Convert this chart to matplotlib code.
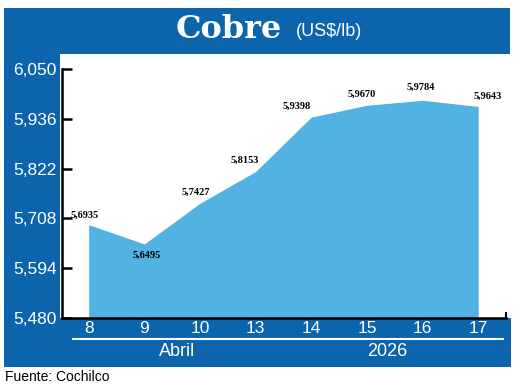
import matplotlib
matplotlib.use("Agg")
import matplotlib.pyplot as plt
from matplotlib.patches import Rectangle

categories = ["8", "9", "10", "13", "14", "15", "16", "17"]
values = [5.6935, 5.6495, 5.7427, 5.8153, 5.9398, 5.9670, 5.9784, 5.9643]
y_ticks = [5.480, 5.594, 5.708, 5.822, 5.936, 6.050]
title_main = "Cobre"
title_unit = "(US$/lb)"
group_labels = ["Abril", "2026"]
source = "Fuente: Cochilco"

# label offsets in pixels (dx, dy) relative to each point (styling)
label_offsets = [(-4, 9), (2, -11), (-4, 11), (-11, 11), (-15, 11), (-5, 11), (-2, 13), (10, 10)]

W, H = 520, 388
DPI = 100
BLUE = "#0B64AC"
FILL = "#52B2E1"

fig = plt.figure(figsize=(W / DPI, H / DPI), dpi=DPI)
fig.patch.set_facecolor("white")

bg = fig.add_axes([0, 0, 1, 1])
bg.set_xlim(0, W)
bg.set_ylim(H, 0)
bg.axis("off")
bg.add_patch(Rectangle((4, 8), 506, 46, color=BLUE, lw=0))
bg.add_patch(Rectangle((4, 54), 56, 313, color=BLUE, lw=0))
bg.add_patch(Rectangle((4, 318), 507, 49, color=BLUE, lw=0))
bg.plot([73, 503], [339, 339], color="white", lw=1.5)

bg.text(229, 30, title_main, color="white", fontsize=23, fontweight="bold",
        family="DejaVu Serif", ha="center", va="center")
bg.text(296, 31, title_unit, color="white", fontsize=13,
        family="Liberation Sans", ha="left", va="center")
bg.text(177, 352, group_labels[0], color="white", fontsize=13,
        family="Liberation Sans", ha="center", va="center")
bg.text(387, 352, group_labels[1], color="white", fontsize=13,
        family="Liberation Sans", ha="center", va="center")
bg.text(5, 377, source, color="black", fontsize=10,
        family="Liberation Sans", ha="left", va="center")

left, right, top, bottom = 62, 506, 69, 318
ax = fig.add_axes([left / W, 1 - bottom / H, (right - left) / W, (bottom - top) / H])
ax.set_facecolor("none")
x = list(range(len(categories)))
ax.fill_between(x, values, y_ticks[0], color=FILL, lw=0, zorder=1)
ax.set_xlim(-0.48, 7.5)
ax.set_ylim(y_ticks[0], y_ticks[-1])
ax.set_yticks(y_ticks)
ax.set_yticklabels([f"{v:.3f}".replace(".", ",") for v in y_ticks])
ax.set_xticks(x)
ax.set_xticklabels(categories)
ax.tick_params(axis="y", direction="in", length=7, width=1.8, colors="black",
               labelcolor="white", labelsize=12.5, pad=4)
ax.tick_params(axis="x", length=0, labelcolor="white", labelsize=12.5, pad=2)
for lab in ax.get_xticklabels() + ax.get_yticklabels():
    lab.set_family("Liberation Sans")
ax.spines["top"].set_visible(False)
ax.spines["right"].set_visible(False)
ax.spines["left"].set_linewidth(1.8)
ax.spines["bottom"].set_linewidth(1.8)
ax.spines["left"].set_zorder(5)
ax.spines["bottom"].set_zorder(5)
ax.plot([7.5, 7.5], [y_ticks[0], y_ticks[0] + 0.012], color="black", lw=1.5,
        clip_on=False, zorder=5)

for xi, v, (dx, dy) in zip(x, values, label_offsets):
    ax.annotate(f"{v:.4f}".replace(".", ","), (xi, v), xytext=(dx * 0.72, dy * 0.72),
                textcoords="offset points", ha="center", va="center",
                fontsize=7.5, fontweight="bold", family="Liberation Serif",
                color="black", zorder=6)

fig.savefig("out.png", dpi=DPI)
